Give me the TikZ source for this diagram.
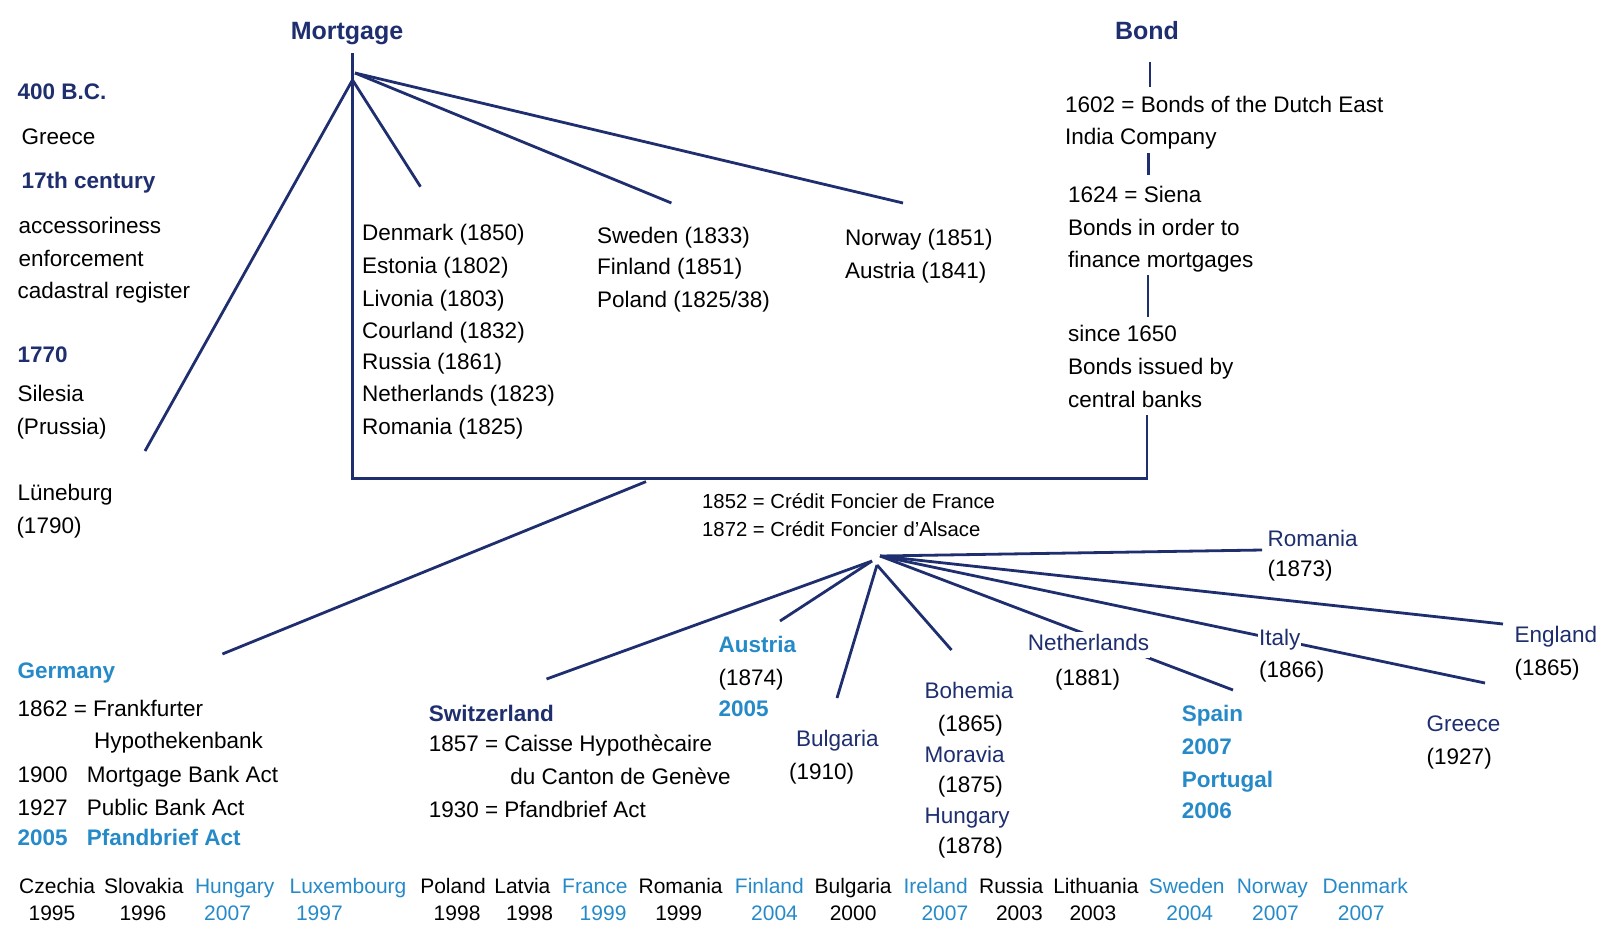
\documentclass[tikz,border=0pt]{standalone}
\usepackage{fontspec}
\setmainfont{Liberation Sans}
\definecolor{navy}{RGB}{30,46,110}
\definecolor{lblue}{RGB}{38,138,200}
\tikzset{
 ln/.style={draw=navy, line width=2.8pt},
 txt/.style={anchor=west, inner sep=0pt, text height=16pt, text depth=0pt, font=\fontsize{22.5}{27}\selectfont, text=black},
 txtb/.style={txt, font=\fontsize{22.5}{27}\selectfont\bfseries, text=navy},
 txtn/.style={txt, text=navy},
 txtl/.style={txt, font=\fontsize{22.5}{27}\selectfont\bfseries, text=lblue},
 txts/.style={txt, font=\fontsize{20.3}{24}\selectfont},
 wht/.style={fill=white, inner xsep=1pt, inner ysep=3pt},
 rowt/.style={anchor=center, inner sep=0pt, text height=15pt, text depth=0pt, font=\fontsize{21}{25}\selectfont, text=black},
 rowb/.style={rowt, text=lblue},
 hdr/.style={anchor=center, inner sep=0pt, text height=18pt, text depth=0pt, font=\fontsize{25}{30}\selectfont\bfseries, text=navy},
}
\begin{document}
\begin{tikzpicture}[x=1pt,y=-1pt]
\useasboundingbox (0,0) rectangle (1600,924);
% ---------- coordinates ----------
\coordinate (stemTop) at (352.5,53);
\coordinate (hubTL) at (352.5,80);
\coordinate (hubTR) at (355,73);
\coordinate (boxL) at (352.5,478.6);
\coordinate (boxR) at (1147,478.6);
\coordinate (bondLow) at (1147,415);
\coordinate (eLun) at (145,451);
\coordinate (eDen) at (420.5,186.7);
\coordinate (eSwe) at (671.4,203);
\coordinate (eNor) at (903,203);
\coordinate (b1a) at (1150,62);   \coordinate (b1b) at (1150,87);
\coordinate (b2a) at (1148.5,153); \coordinate (b2b) at (1148.5,175);
\coordinate (b3a) at (1148,275);  \coordinate (b3b) at (1148,317);
\coordinate (gStart) at (646,481.6);
\coordinate (eGer) at (222.4,654);
\coordinate (hubR) at (880,556);
\coordinate (hubL) at (872,561);
\coordinate (hubD) at (877,565);
\coordinate (eRom) at (1262,550);
\coordinate (eEng) at (1503,624);
\coordinate (eGre) at (1485,683);
\coordinate (eSpa) at (1233,690);
\coordinate (eBoh) at (951.5,650);
\coordinate (eBul) at (837,698);
\coordinate (eAus) at (780,621);
\coordinate (eSwi) at (546.5,679);
% ---------- connectors ----------
\draw[ln] (stemTop) -- (boxL) -- (boxR) -- (bondLow);
\draw[ln] (hubTL) -- (eLun);
\draw[ln] (hubTL) -- (eDen);
\draw[ln] (hubTR) -- (eSwe);
\draw[ln] (hubTR) -- (eNor);
\draw[ln] (b1a) -- (b1b);
\draw[ln] (b2a) -- (b2b);
\draw[ln] (b3a) -- (b3b);
\draw[ln] (gStart) -- (eGer);
\draw[ln] (hubR) -- (eRom);
\draw[ln] (hubR) -- (eEng);
\draw[ln] (hubR) -- (eGre);
\draw[ln] (hubR) -- (eSpa);
\draw[ln] (hubD) -- (eBoh);
\draw[ln] (hubD) -- (eBul);
\draw[ln] (hubL) -- (eAus);
\draw[ln] (hubL) -- (eSwi);
% ---------- headers ----------
\node[hdr] (mort) at (347,30) {Mortgage};
\node[hdr] (bond) at (1147,30) {Bond};
% ---------- left column ----------
\node[txtb] (bc) at (17.3,91.8) {400 B.C.};
\node[txt] (gr) at (21.4,136.7) {Greece};
\node[txtb] (c17) at (21.4,180.6) {17th century};
\node[txt] (acc) at (18.4,225.5) {accessoriness};
\node[txt] (enf) at (18.4,258.2) {enforcement};
\node[txt] (cad) at (17.3,290.8) {cadastral register};
\node[txtb] (y1770) at (17.3,354.1) {1770};
\node[txt] (sil) at (17.3,393.9) {Silesia};
\node[txt] (pru) at (16.3,426.5) {(Prussia)};
\node[txt] (lun) at (17.3,492.9) {Lüneburg};
\node[txt] (y1790) at (16.3,525.5) {(1790)};
% ---------- mortgage columns ----------
\node[txt] (den) at (362,232.7) {Denmark (1850)};
\node[txt] (est) at (362,265.3) {Estonia (1802)};
\node[txt] (liv) at (362,298) {Livonia (1803)};
\node[txt] (cou) at (362,330.6) {Courland (1832)};
\node[txt] (rus) at (362,361.2) {Russia (1861)};
\node[txt] (net1) at (362,393.9) {Netherlands (1823)};
\node[txt] (rom1) at (362,426.5) {Romania (1825)};
\node[txt] (swe) at (597,235.7) {Sweden (1833)};
\node[txt] (fin) at (597,266.3) {Finland (1851)};
\node[txt] (pol) at (597,299) {Poland (1825/38)};
\node[txt] (nor) at (845,237.8) {Norway (1851)};
\node[txt] (aut1) at (845,270.4) {Austria (1841)};
% ---------- bond column ----------
\node[txt] (bo1) at (1065,104) {1602 = Bonds of the Dutch East};
\node[txt] (bo2) at (1065,136.7) {India Company};
\node[txt] (bo3) at (1068,194.9) {1624 = Siena};
\node[txt] (bo4) at (1068,227.6) {Bonds in order to};
\node[txt] (bo5) at (1068,259.2) {finance mortgages};
\node[txt] (bo6) at (1068,333.7) {since 1650};
\node[txt] (bo7) at (1068,366.3) {Bonds issued by};
\node[txt] (bo8) at (1068,399) {central banks};
% ---------- credit foncier ----------
\node[txts] (cf1) at (702,500) {1852 = Crédit Foncier de France};
\node[txts] (cf2) at (702,528.6) {1872 = Crédit Foncier d'Alsace};
% ---------- lower branches ----------
\node[txtn] (roma) at (1267.4,538.8) {Romania};
\node[txt] (romy) at (1267.4,568.4) {(1873)};
\node[txtn] (eng) at (1514.3,634.7) {England};
\node[txt] (engy) at (1514.3,667.3) {(1865)};
\node[txtn, wht] (ita) at (1258,637.8) {Italy};
\node[txt] (itay) at (1259,669.4) {(1866)};
\node[txtn] (gre) at (1426.5,723.5) {Greece};
\node[txt] (grey) at (1426.5,756.1) {(1927)};
\node[txtn, wht, text depth=4pt] (neth) at (1026.6,644.9) {Netherlands};
\node[txt] (nethy) at (1055,677.5) {(1881)};
\node[txtl] (spa) at (1181.6,713.3) {Spain};
\node[txtl] (spay) at (1181.6,746) {2007};
\node[txtl] (por) at (1181.6,779.6) {Portugal};
\node[txtl] (pory) at (1181.6,810.2) {2006};
\node[txtn] (boh) at (924.5,690.8) {Bohemia};
\node[txt] (bohy) at (937.7,723.5) {(1865)};
\node[txtn] (mor) at (924.5,754.1) {Moravia};
\node[txt] (mory) at (937.7,784.7) {(1875)};
\node[txtn] (hun) at (924.5,815.3) {Hungary};
\node[txt] (huny) at (937.7,845.9) {(1878)};
\node[txtn] (bul) at (796,738.8) {Bulgaria};
\node[txt] (buly) at (788.8,771.4) {(1910)};
\node[txtl] (aus) at (718.4,644.9) {Austria};
\node[txt] (ausy) at (718.4,677.5) {(1874)};
\node[txtl] (ausy2) at (718.4,708.2) {2005};
\node[txtb] (swi) at (428.6,713.3) {Switzerland};
\node[txt] (swi1) at (428.6,743.9) {1857 = Caisse Hypothècaire};
\node[txt] (swi2) at (510.2,776.5) {du Canton de Genève};
\node[txt] (swi3) at (428.6,809.2) {1930 = Pfandbrief Act};
\node[txtl] (ger) at (17.3,670.4) {Germany};
\node[txt] (ger1) at (17.3,708.2) {1862 = Frankfurter};
\node[txt] (ger2) at (93.9,740.8) {Hypothekenbank};
\node[txt] (ger3a) at (17.3,774.5) {1900};
\node[txt] (ger3b) at (86.7,774.5) {Mortgage Bank Act};
\node[txt] (ger4a) at (17.3,807.1) {1927};
\node[txt] (ger4b) at (86.7,807.1) {Public Bank Act};
\node[txtl] (ger5a) at (17.3,837.8) {2005};
\node[txtl] (ger5b) at (86.7,837.8) {Pfandbrief Act};
% ---------- bottom row ----------
\foreach \nx/\yx/\nm/\yr/\st [count=\i] in {
 57.1/52/Czechia/1995/rowt, 143.9/142.9/Slovakia/1996/rowt,
 234.7/227.6/Hungary/2007/rowb, 348/319.4/Luxembourg/1997/rowb,
 453/457.1/Poland/1998/rowt, 522.4/529.6/Latvia/1998/rowt,
 594.9/603.1/France/1999/rowb, 680.6/678.6/Romania/1999/rowt,
 769.4/774.5/Finland/2004/rowb, 853.1/853.1/Bulgaria/2000/rowt,
 935.7/944.9/Ireland/2007/rowb, 1011.2/1019.4/Russia/2003/rowt,
 1095.9/1092.9/Lithuania/2003/rowt, 1186.7/1189.8/Sweden/2004/rowb,
 1272.4/1275.5/Norway/2007/rowb, 1365.3/1361.2/Denmark/2007/rowb}
{
 \node[\st] (rn\i) at (\nx,885.7) {\nm};
 \node[\st] (ry\i) at (\yx,913.3) {\yr};
}
\end{tikzpicture}
\end{document}
